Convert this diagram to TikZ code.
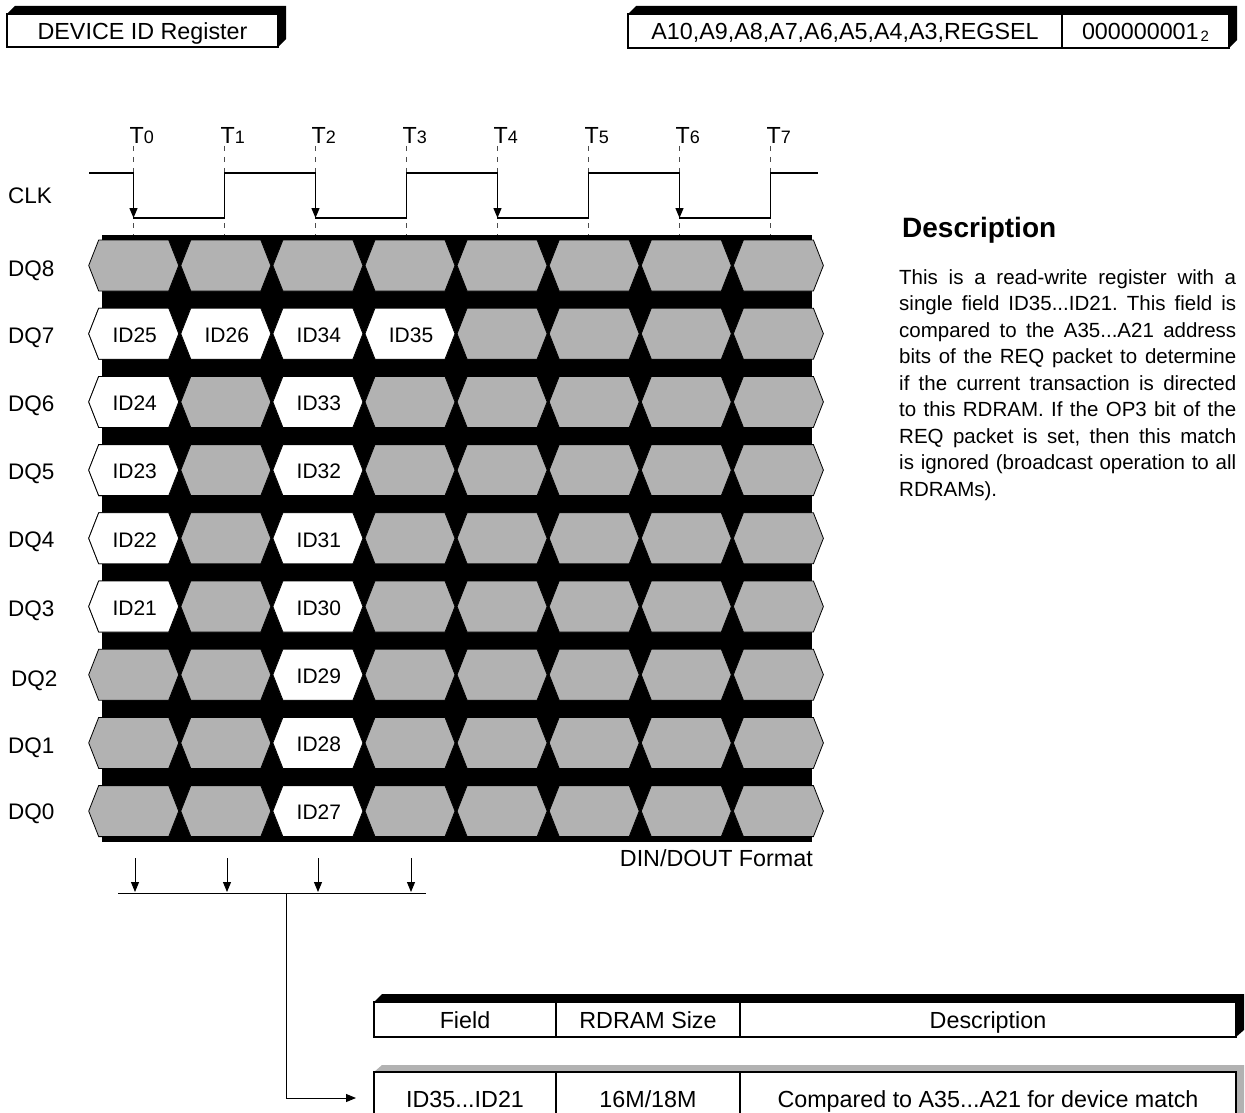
\documentclass[tikz,border=0pt]{standalone}
\usepackage{fontspec}
\setmainfont{Liberation Sans}
\usetikzlibrary{arrows.meta}
\newcommand\myfs[1]{\fontsize{#1}{#1}\selectfont}
\newcommand\jline[1]{\hbox to 337pt{#1}}
\frenchspacing
\begin{document}
\begin{tikzpicture}[x=1pt,y=-1pt,
  frame/.style={draw=black,line width=1.1pt,fill=white},
  lbl/.style={inner sep=0pt,font=\myfs{22.5}},
  txt/.style={inner sep=0pt,font=\myfs{23.3}},
  hexg/.style={fill=black!30,draw=black,line width=0.8pt},
  hexw/.style={fill=white,draw=black,line width=0.8pt},
  clk/.style={line width=1.3pt},
  tip/.style={-{Triangle[length=10pt,width=8pt]}},
  tline/.style={line width=0.7pt,dash pattern=on 5pt off 6pt,black!70},
]
\useasboundingbox (0,0) rectangle (1245,1113);

% ---------- top-left register box
\fill (7,14) -- (15,6) -- (286,6) -- (286,39) -- (278,47) -- (278,14) -- cycle;
\draw[frame] (7,14) rectangle (278,47);
\node[txt,anchor=base] (devid) at (142.5,39.5) {DEVICE ID Register};

% ---------- top-right address box
\fill (628,14) -- (636,6) -- (1237,6) -- (1237,40) -- (1229,48) -- (1229,14) -- cycle;
\draw[frame] (628,14) rectangle (1229,48);
\draw[line width=1.1pt] (1062,14) -- (1062,48);
\node[txt,anchor=base] (addr) at (845,40) {A10,A9,A8,A7,A6,A5,A4,A3,REGSEL};
\node[txt,anchor=base] (addrval) at (1145.5,40) {000000001\hspace{2pt}\raisebox{-2pt}{\myfs{15}2}};

% ---------- clock
\foreach \i in {0,...,7} {
  \draw[tline] (133.5+91*\i,146) -- (133.5+91*\i,236);
  \node[txt,anchor=base west] (t\i) at (129.5+91*\i,143.5) {T{\myfs{18}\i}};
}
\draw[clk] (89,173) -- (133.5,173) -- (133.5,218) -- (224.5,218) -- (224.5,173)
  -- (315.5,173) -- (315.5,218) -- (406.5,218) -- (406.5,173)
  -- (497.5,173) -- (497.5,218) -- (588.5,218) -- (588.5,173)
  -- (679.5,173) -- (679.5,218) -- (770.5,218) -- (770.5,173) -- (818,173);
\foreach \x in {133.5,315.5,497.5,679.5}
  \draw[clk,tip] (\x,190) -- (\x,218);

% ---------- signal labels
\node[lbl,anchor=base west] (clkl) at (8,204) {CLK};
\node[lbl,anchor=base west] (dq8) at (8,276) {DQ8};
\node[lbl,anchor=base west] (dq7) at (8,343) {DQ7};
\node[lbl,anchor=base west] (dq6) at (8,411) {DQ6};
\node[lbl,anchor=base west] (dq5) at (8,479) {DQ5};
\node[lbl,anchor=base west] (dq4) at (8,547) {DQ4};
\node[lbl,anchor=base west] (dq3) at (8,616) {DQ3};
\node[lbl,anchor=base west] (dq2) at (11,686) {DQ2};
\node[lbl,anchor=base west] (dq1) at (8,753) {DQ1};
\node[lbl,anchor=base west] (dq0) at (8,819) {DQ0};

% ---------- data field
\fill (102,234.5) rectangle (812,841.5);
\foreach \k in {0,...,8} {
  \foreach \i in {0,...,7} {
    \pgfmathsetmacro\cx{133.7+92.1*\i}
    \pgfmathsetmacro\cy{265.5+68.2*\k}
    \draw[hexg] (\cx-45,\cy) -- (\cx-35,\cy-25.5) -- (\cx+35,\cy-25.5)
      -- (\cx+45,\cy) -- (\cx+35,\cy+25.5) -- (\cx-35,\cy+25.5) -- cycle;
  }
}
\foreach \i/\k/\t in {0/1/ID25,1/1/ID26,2/1/ID34,3/1/ID35,0/2/ID24,2/2/ID33,
  0/3/ID23,2/3/ID32,0/4/ID22,2/4/ID31,0/5/ID21,2/5/ID30,2/6/ID29,2/7/ID28,2/8/ID27} {
    \pgfmathsetmacro\cx{133.7+92.1*\i}
    \pgfmathsetmacro\cy{265.5+68.2*\k}
    \draw[hexw] (\cx-45,\cy) -- (\cx-35,\cy-25.5) -- (\cx+35,\cy-25.5)
      -- (\cx+45,\cy) -- (\cx+35,\cy+25.5) -- (\cx-35,\cy+25.5) -- cycle;
    \node[inner sep=0pt,font=\myfs{21}] (\t) at (\cx+1,\cy+1.5) {\t};
}
\node[txt,anchor=base east] (fmt) at (813,866) {DIN/DOUT Format};

% ---------- bit collection arrows
\foreach \x in {135,227,318,411}
  \draw[line width=1pt,tip] (\x,858) -- (\x,892);
\draw[line width=1pt] (118,893) -- (426,893);
\coordinate (busmid) at (286,893);
\coordinate (rowin) at (356,1098);

% ---------- description text
\node[anchor=base west,inner sep=0pt,font=\bfseries\myfs{28}] (deschead) at (902,237) {Description};
\node[anchor=base west,inner sep=0pt,font=\myfs{20.5}] (descbody) at (899,284) {\parbox[t]{337pt}{\baselineskip=26.5pt
\jline{This is a read-write register with a}
\jline{single field ID35...ID21. This field is}
\jline{compared to the A35...A21 address}
\jline{bits of the REQ packet to determine}
\jline{if the current transaction is directed}
\jline{to this RDRAM. If the OP3 bit of the}
\jline{REQ packet is set, then this match}
\jline{is ignored (broadcast operation to all}
\hbox{RDRAMs).}}};

% ---------- field table
\fill (374,1002) -- (382,994) -- (1244,994) -- (1244,1030) -- (1236,1037) -- (1236,1002) -- cycle;
\draw[frame] (374,1002) rectangle (1236,1037);
\draw[line width=1.1pt] (556,1002) -- (556,1037) (740,1002) -- (740,1037);
\node[txt,anchor=base] (hfield) at (465,1028) {Field};
\node[txt,anchor=base] (hsize) at (648,1028) {RDRAM Size};
\node[txt,anchor=base] (hdesc) at (988,1028) {Description};

\fill[black!30] (374,1072) -- (382,1065) -- (1244,1065) -- (1244,1120) -- (1236,1120) -- (1236,1072) -- cycle;
\draw[frame] (374,1072) rectangle (1236,1125);
\draw[line width=1.1pt] (556,1072) -- (556,1125) (740,1072) -- (740,1125);
\node[txt,anchor=base] (dfield) at (465,1107) {ID35...ID21};
\node[txt,anchor=base] (dsize) at (648,1107) {16M/18M};
\node[txt,anchor=base] (ddesc) at (988,1107) {Compared to A35...A21 for device match};

\draw[line width=1pt,tip] (busmid) -- (286,1098) -- (rowin);
\end{tikzpicture}
\end{document}
